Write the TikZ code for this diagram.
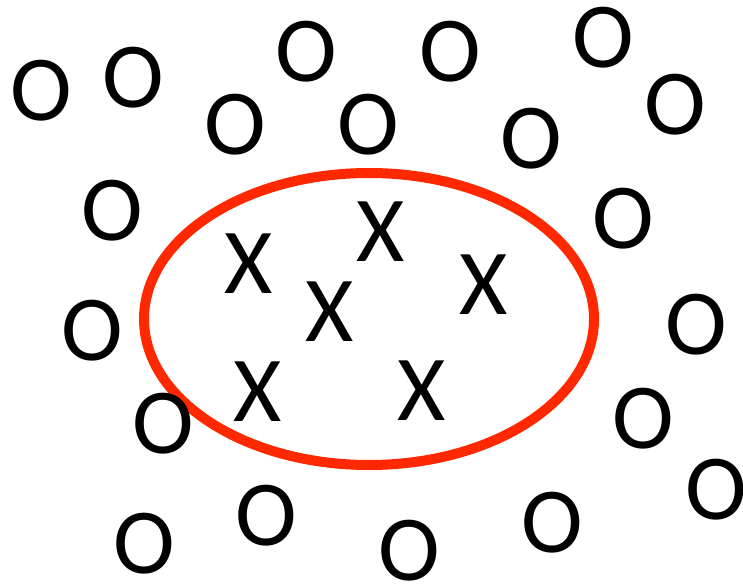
\documentclass[tikz,border=0pt]{standalone}
\usepackage{fontspec}
\setmainfont{Carlito}
\definecolor{ringred}{RGB}{255,40,0}
\tikzset{
  letter/.style={inner sep=0pt, outer sep=0pt, font=\fontsize{93}{100}\selectfont, text=black},
  ring/.style={draw=ringred, line width=10pt}
}
\begin{document}
\begin{tikzpicture}[x=1pt,y=-1pt]
\useasboundingbox (0,0) rectangle (743,585);
\draw[ring] (369,319) ellipse [x radius=225, y radius=146];
% O's
\node[letter] (o1) at (41,91) {O};
\node[letter] (o2) at (133,78) {O};
\node[letter] (o3) at (306,52) {O};
\node[letter] (o4) at (450,52) {O};
\node[letter] (o5) at (603,38) {O};
\node[letter] (o6) at (675,105) {O};
\node[letter] (o7) at (235,125) {O};
\node[letter] (o8) at (368,125) {O};
\node[letter] (o9) at (531,139) {O};
\node[letter] (o10) at (112,211) {O};
\node[letter] (o11) at (623,219) {O};
\node[letter] (o12) at (92,331) {O};
\node[letter] (o13) at (696,325) {O};
\node[letter] (o14) at (163,424) {O};
\node[letter] (o15) at (643,419) {O};
\node[letter] (o16) at (716,490) {O};
\node[letter] (o17) at (144,544) {O};
\node[letter] (o18) at (266,516) {O};
\node[letter] (o19) at (409,551) {O};
\node[letter] (o20) at (552,523) {O};
% X's
\node[letter] (x1) at (381,232) {X};
\node[letter] (x2) at (249,264) {X};
\node[letter] (x3) at (484,285) {X};
\node[letter] (x4) at (330,312) {X};
\node[letter] (x5) at (258,392) {X};
\node[letter] (x6) at (422,391) {X};
\end{tikzpicture}
\end{document}
